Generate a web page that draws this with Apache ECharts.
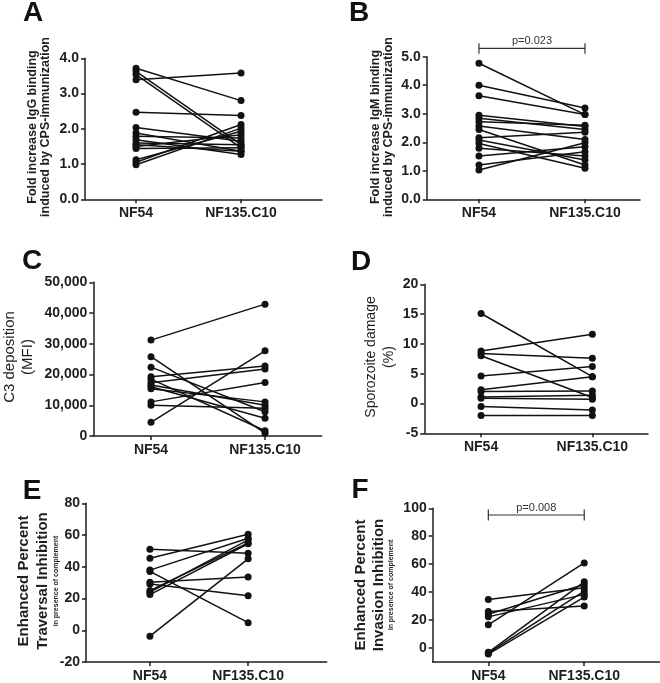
<!DOCTYPE html>
<html><head><meta charset="utf-8">
<script src="https://cdn.jsdelivr.net/npm/echarts@6/dist/echarts.min.js"></script>
<style>html,body{margin:0;padding:0;background:#fff}#c{width:660px;height:683px}</style>
</head><body><div id="c"></div>
<script>
const categories = ['NF54', 'NF135.C10'];

// Panel A: IgG
const iggNF54  = [3.72, 3.63, 3.54, 3.39, 2.47, 2.04, 1.88, 1.79, 1.69, 1.60, 1.55, 1.50, 1.44, 1.12, 1.05, 0.98];
const iggNF135 = [2.80, 1.55, 1.46, 3.58, 2.38, 1.65, 1.36, 1.74, 1.27, 1.55, 1.36, 1.83, 1.46, 1.93, 2.12, 2.02];
// Panel B: IgM
const igmNF54  = [4.77, 4.00, 3.63, 2.95, 2.84, 2.72, 2.57, 2.45, 2.16, 2.08, 1.96, 1.79, 1.52, 1.20, 1.03];
const igmNF135 = [2.97, 3.20, 2.97, 2.55, 2.45, 2.60, 2.10, 1.20, 2.35, 1.38, 1.09, 1.52, 1.84, 1.67, 1.98];
// Panel C: C3 deposition
const c3NF54  = [31200, 25800, 22400, 19300, 18500, 17300, 16600, 16000, 15400, 11100, 10000, 4450];
const c3NF135 = [42900, 900, 7900, 22800, 1700, 21800, 10000, 5800, 11100, 17400, 9000, 27700];
// Panel D: Sporozoite damage
const dmgNF54  = [15.1, 8.8, 8.4, 8.0, 4.6, 2.3, 2.0, 1.1, 0.9, -0.5, -2.0];
const dmgNF135 = [4.5, 11.6, 7.6, 1.0, 6.2, 4.5, 2.1, 1.4, 0.7, -1.1, -2.0];
// Panel E: Traversal inhibition
const travNF54  = [51.0, 45.4, 37.9, 37.1, 30.2, 29.2, 25.0, 24.0, 22.5, -3.75];
const travNF135 = [48.5, 60.5, 58.0, 4.8, 33.5, 21.8, 55.0, 57.0, 54.5, 45.0];
// Panel F: Invasion inhibition
const invNF54  = [34.8, 26.1, 24.2, 22.3, 16.6, -3.1, -4.3, -3.6];
const invNF135 = [43.1, 30.1, 45.5, 38.4, 60.9, 47.4, 36.5, 40.8];

const pTextB = 'p=0.023', pLevelB = 5.29;
const pTextF = 'p=0.008', pLevelF = 95.2;

const FONT = "'Liberation Sans', Arial, sans-serif";
const INK = '#1e1e1e';

const panels = [
  {grid:{left:85, top:58.3, width:237, height:141}, x:[0.514,2.771], y:[0,4,1], fmt:v=>v.toFixed(1), a:iggNF54, b:iggNF135},
  {grid:{left:426.7, top:56.7, width:213.3, height:142.6}, x:[0.507,2.519], y:[0,5,1], fmt:v=>v.toFixed(1), a:igmNF54, b:igmNF135},
  {grid:{left:93.3, top:282.3, width:228.4, height:153.7}, x:[0.494,2.497], y:[0,50000,10000], fmt:v=>String(v).replace(/\B(?=(\d{3})+(?!\d))/g, ','), a:c3NF54, b:c3NF135},
  {grid:{left:424.3, top:284.3, width:223.7, height:149}, x:[0.49,2.5], y:[-5,20,5], fmt:v=>String(v), a:dmgNF54, b:dmgNF135},
  {grid:{left:86, top:503.3, width:240.7, height:160}, x:[0.349,2.80], y:[-20,80,20], fmt:v=>String(v), a:travNF54, b:travNF135},
  {grid:{left:432.7, top:508.3, width:227.3, height:155}, x:[0.42,2.79], y:[-10,100,20], custom:[0,20,40,60,80,100], fmt:v=>String(v), a:invNF54, b:invNF135}
];

const grid = [], xAxis = [], yAxis = [], series = [];
panels.forEach((p, i) => {
  grid.push(Object.assign({containLabel:false}, p.grid));
  xAxis.push({
    type:'value', gridIndex:i, min:p.x[0], max:p.x[1],
    axisLine:{onZero:false, lineStyle:{color:INK, width:1.5}},
    axisTick:{show:true, length:4, customValues:[1,2], lineStyle:{color:INK, width:1.5}},
    axisLabel:{customValues:[1,2], formatter:v=>categories[Math.round(v)-1] || '', color:INK, fontFamily:FONT, fontWeight:'bold', fontSize:14, margin:7},
    splitLine:{show:false}
  });
  const ya = {
    type:'value', gridIndex:i, min:p.y[0], max:p.y[1],
    axisLine:{show:true, onZero:false, lineStyle:{color:INK, width:1.5}},
    axisTick:{show:true, length:4, lineStyle:{color:INK, width:1.5}},
    axisLabel:{formatter:p.fmt, color:INK, fontFamily:FONT, fontWeight:'bold', fontSize:14, margin:6},
    splitLine:{show:false}
  };
  if (p.custom) { ya.axisTick.customValues = p.custom; ya.axisLabel.customValues = p.custom; }
  else { ya.interval = p.y[2]; }
  yAxis.push(ya);
  p.a.forEach((v, k) => {
    series.push({
      type:'line', xAxisIndex:i, yAxisIndex:i, data:[[1, v], [2, p.b[k]]],
      symbol:'circle', symbolSize:7, itemStyle:{color:'#111'},
      lineStyle:{color:'#111', width:1.5}, silent:true, animation:false, z:3
    });
  });
});

function bracket(idx, level, text, tickHalf, textGap) {
  return {
    type:'custom', xAxisIndex:idx, yAxisIndex:idx, data:[[level]], animation:false, clip:false, silent:true,
    renderItem:(params, api) => {
      const y = api.value(0);
      const p1 = api.coord([1, y]), p2 = api.coord([2, y]);
      const ls = {stroke:'#333', lineWidth:1.2};
      return {type:'group', children:[
        {type:'line', shape:{x1:p1[0], y1:p1[1], x2:p2[0], y2:p2[1]}, style:ls},
        {type:'line', shape:{x1:p1[0], y1:p1[1]-tickHalf, x2:p1[0], y2:p1[1]+tickHalf}, style:ls},
        {type:'line', shape:{x1:p2[0], y1:p2[1]-tickHalf, x2:p2[0], y2:p2[1]+tickHalf}, style:ls},
        {type:'text', style:{text:text, x:(p1[0]+p2[0])/2, y:p1[1]-textGap, align:'center', verticalAlign:'bottom', font:'11px ' + FONT, fill:'#333'}}
      ]};
    }
  };
}
series.push(bracket(1, pLevelB, pTextB, 5.3, 1.5));
series.push(bracket(5, pLevelF, pTextF, 5.5, 2));

function letter(t, x, y) {
  return {type:'text', x:x, y:y, style:{text:t, font:'bold 28px ' + FONT, fill:'#111', align:'center', verticalAlign:'middle'}};
}
function vtitle(x, y, style) {
  return {type:'text', x:x, y:y, rotation:Math.PI/2, style:Object.assign({fill:INK, align:'center', verticalAlign:'middle'}, style)};
}

const graphic = [
  letter('A', 33, 13), letter('B', 359, 13), letter('C', 32, 261),
  letter('D', 361, 262), letter('E', 32, 491), letter('F', 360, 490),
  vtitle(39, 127, {text:'Fold increase IgG binding\ninduced by CPS-immunization', font:'bold 12.5px ' + FONT, lineHeight:13}),
  vtitle(382, 127, {text:'Fold increase IgM binding\ninduced by CPS-immunization', font:'bold 12.5px ' + FONT, lineHeight:13}),
  vtitle(19, 357, {text:'C3 deposition\n(MFI)', font:'15px ' + FONT, lineHeight:18}),
  vtitle(380, 357, {text:'Sporozoite damage\n(%)', font:'14px ' + FONT, lineHeight:18}),
  vtitle(37, 581, {text:'{a|Enhanced Percent}\n{a|Traversal Inhibition}\n{b|in presence of complement}',
    rich:{a:{font:'bold 15px ' + FONT, lineHeight:19, fill:INK, align:'center'}, b:{font:'bold 7px ' + FONT, lineHeight:8, fill:INK, align:'center'}}}),
  vtitle(373, 585, {text:'{a|Enhanced Percent}\n{a|Invasion Inhibition}\n{b|in presence of complement}',
    rich:{a:{font:'bold 15px ' + FONT, lineHeight:18, fill:INK, align:'center'}, b:{font:'bold 7px ' + FONT, lineHeight:7, fill:INK, align:'center'}}})
];

const chart = echarts.init(document.getElementById('c'), null, {renderer:'canvas'});
chart.setOption({backgroundColor:'#fff', animation:false, grid, xAxis, yAxis, series, graphic});
</script></body></html>
